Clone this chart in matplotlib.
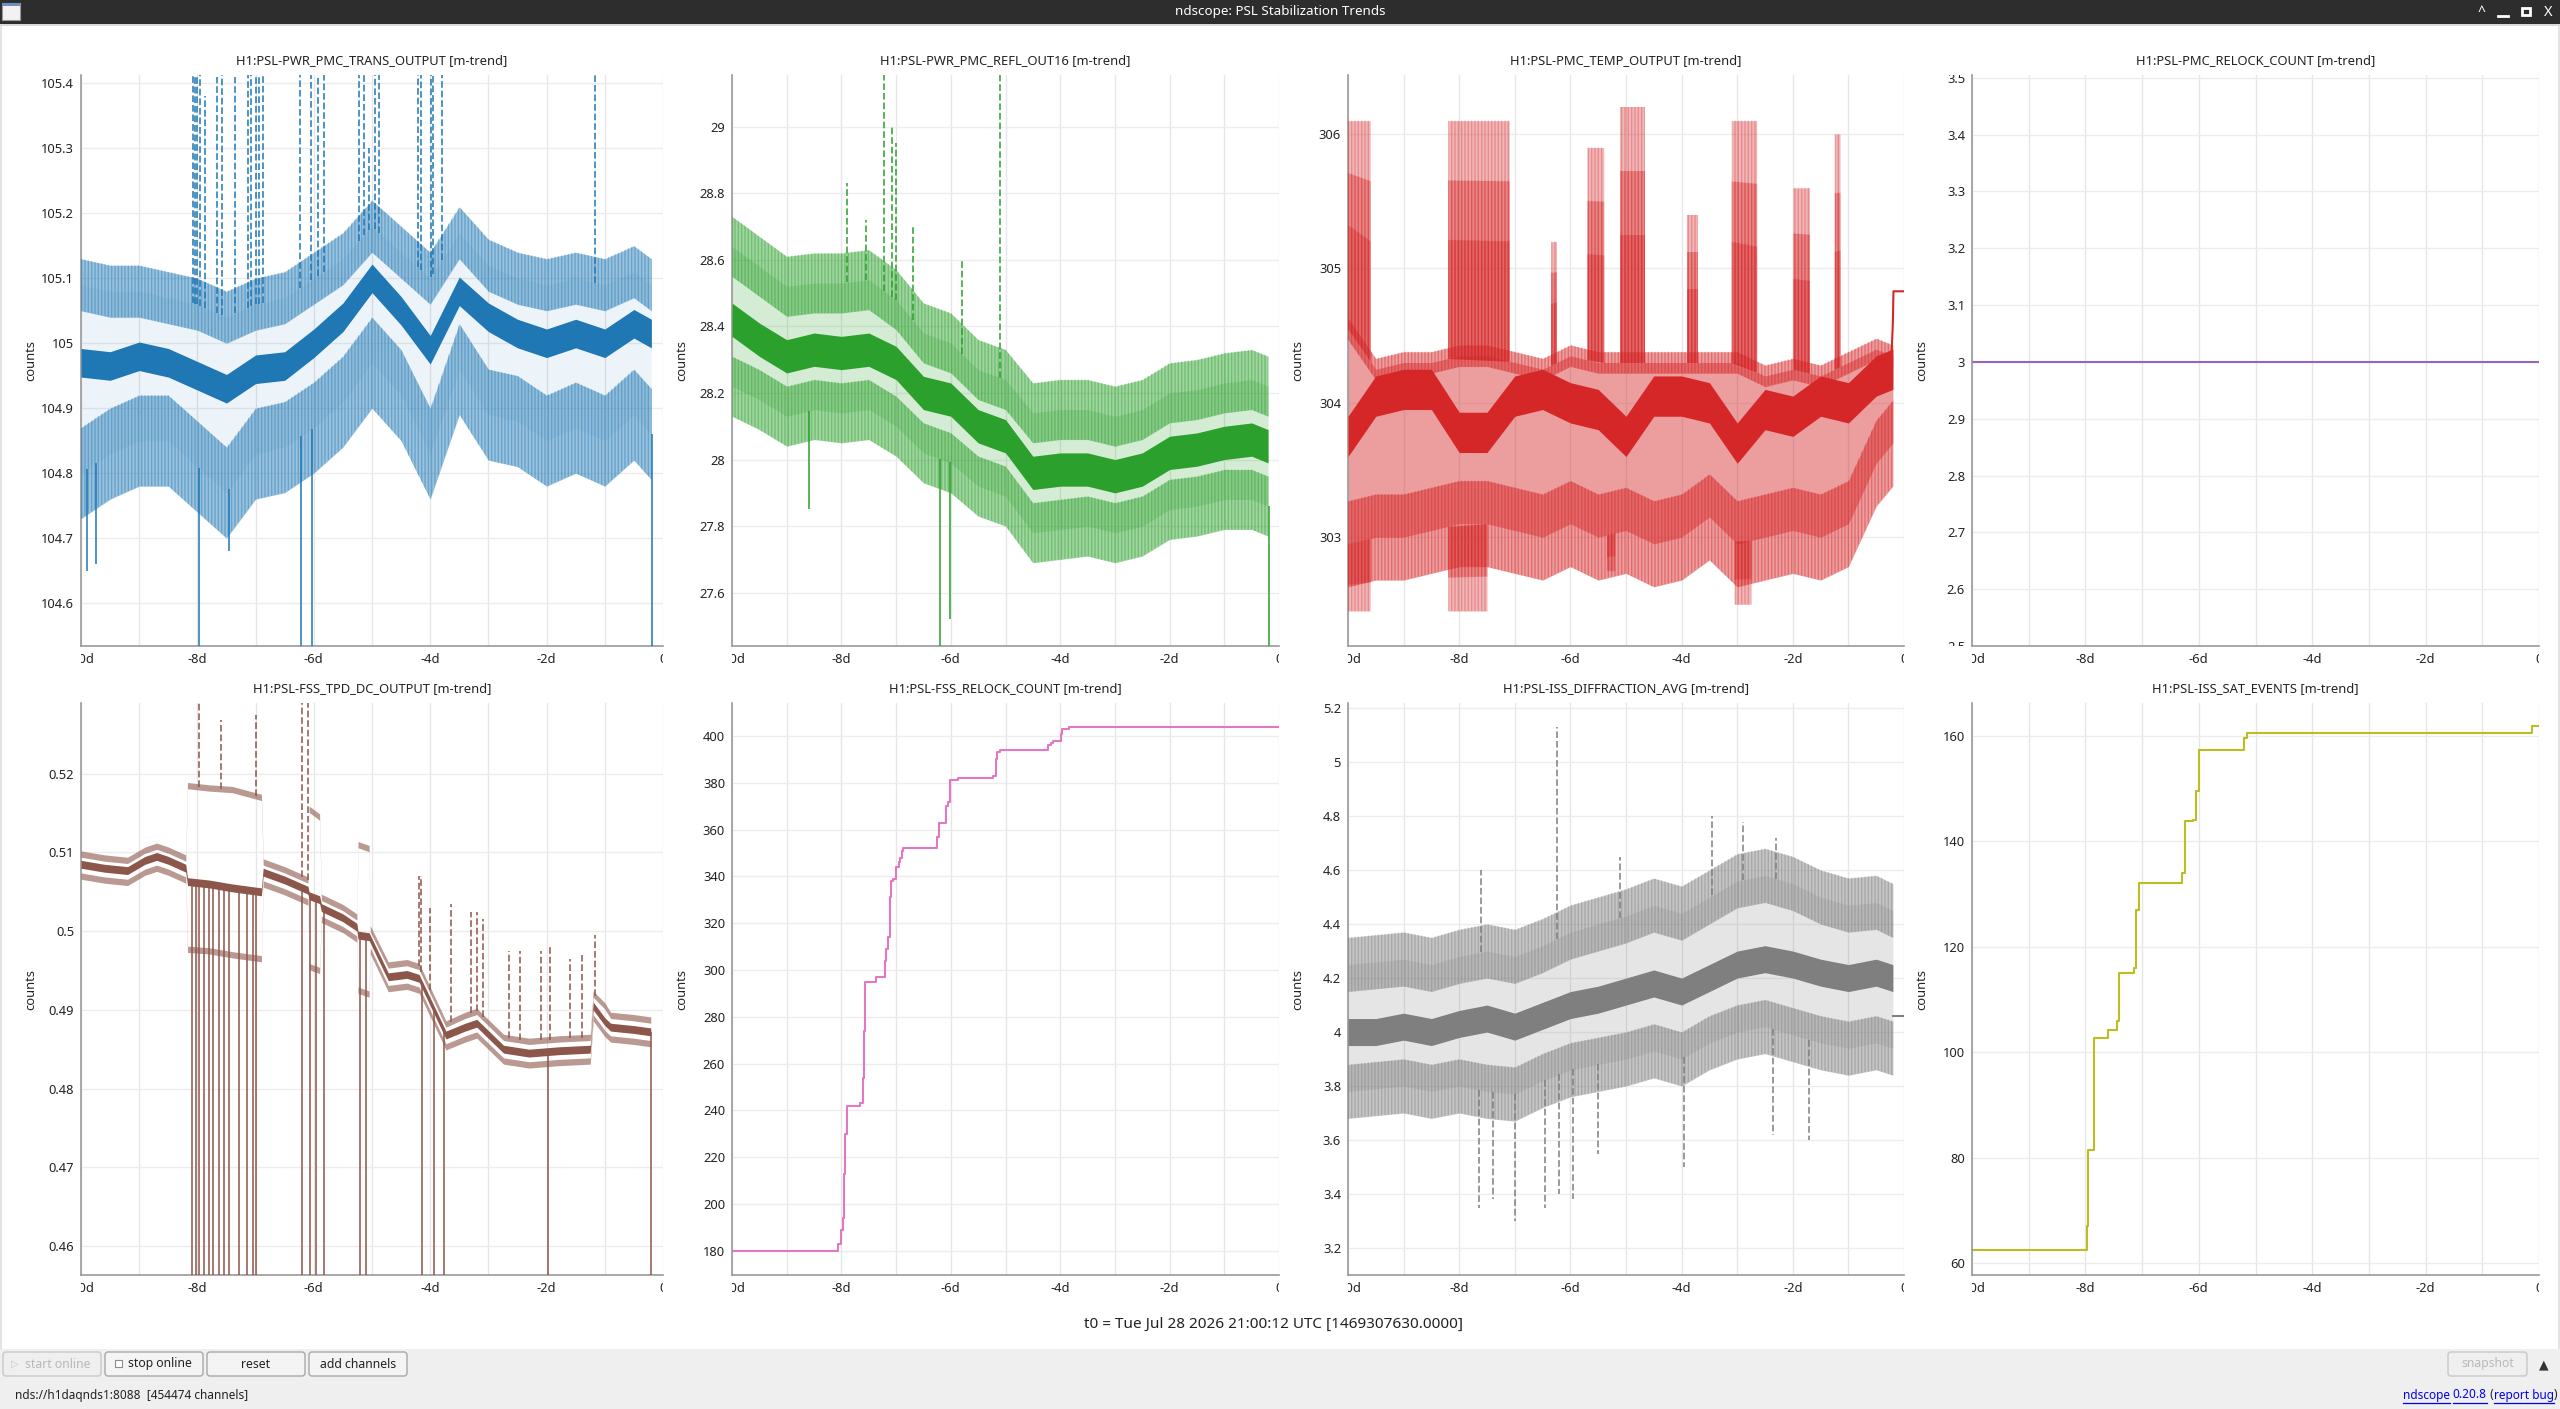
import numpy as np
import matplotlib.pyplot as plt
from matplotlib.patches import Rectangle, FancyBboxPatch
from matplotlib.transforms import Bbox, TransformedBbox
from matplotlib.ticker import FixedLocator, FuncFormatter

plt.rcParams['font.family'] = ['Noto Sans', 'DejaVu Sans']
plt.rcParams['hatch.linewidth'] = 1.0

W, H = 2560, 1409

# time axis, days before t0
x_ticks = [-10, -8, -6, -4, -2, 0]
x_tick_labels = ['-10d', '-8d', '-6d', '-4d', '-2d', '0']
x_minor = [-9, -7, -5, -3, -1]
days = [-10, -9.5, -9, -8.5, -8, -7.5, -7, -6.5, -6, -5.5, -5, -4.5, -4, -3.5, -3,
        -2.5, -2, -1.5, -1, -0.5, -0.2]

titles = ['H1:PSL-PWR_PMC_TRANS_OUTPUT [m-trend]', 'H1:PSL-PWR_PMC_REFL_OUT16 [m-trend]',
          'H1:PSL-PMC_TEMP_OUTPUT [m-trend]', 'H1:PSL-PMC_RELOCK_COUNT [m-trend]',
          'H1:PSL-FSS_TPD_DC_OUTPUT [m-trend]', 'H1:PSL-FSS_RELOCK_COUNT [m-trend]',
          'H1:PSL-ISS_DIFFRACTION_AVG [m-trend]', 'H1:PSL-ISS_SAT_EVENTS [m-trend]']
colors = ['#1f77b4', '#2ca02c', '#d62728', '#9467bd', '#8c564b', '#e377c2', '#7f7f7f', '#bcbd22']
ylims = [(104.534, 105.413), (27.44, 29.155), (302.19, 306.44), (2.5, 3.505),
         (0.4563, 0.529), (169.7, 414.1), (3.1, 5.219), (57.8, 166.2)]
yticks = [[104.6, 104.7, 104.8, 104.9, 105.0, 105.1, 105.2, 105.3, 105.4],
          [27.6, 27.8, 28.0, 28.2, 28.4, 28.6, 28.8, 29.0],
          [303, 304, 305, 306],
          [2.5, 2.6, 2.7, 2.8, 2.9, 3.0, 3.1, 3.2, 3.3, 3.4, 3.5],
          [0.46, 0.47, 0.48, 0.49, 0.50, 0.51, 0.52],
          [180, 200, 220, 240, 260, 280, 300, 320, 340, 360, 380, 400],
          [3.2, 3.4, 3.6, 3.8, 4.0, 4.2, 4.4, 4.6, 4.8, 5.0, 5.2],
          [60, 80, 100, 120, 140, 160]]

# PMC trans (blue)
p1_max = [105.09, 105.08, 105.08, 105.07, 105.06, 105.04, 105.06, 105.07, 105.1, 105.13, 105.18,
          105.14, 105.1, 105.17, 105.12, 105.1, 105.09, 105.1, 105.09, 105.11, 105.09]
p1_mean = [104.97, 104.965, 104.98, 104.97, 104.95, 104.93, 104.96, 104.965, 105.0, 105.04, 105.1,
           105.05, 104.99, 105.08, 105.04, 105.015, 105.0, 105.015, 105.0, 105.03, 105.015]
p1_min = [104.8, 104.83, 104.85, 104.85, 104.81, 104.77, 104.83, 104.84, 104.87, 104.91, 104.97,
          104.92, 104.83, 104.96, 104.89, 104.88, 104.85, 104.87, 104.85, 104.89, 104.86]
p1_up_days = [-8.07, -8.04, -8.0, -7.95, -7.87, -7.67, -7.58, -7.35, -7.13, -7.08, -7.0, -6.95, -6.87,
              -6.24, -6.05, -5.93, -5.83, -5.22, -5.14, -5.05, -4.95, -4.88, -4.21, -4.16, -3.99,
              -3.95, -3.8, -1.17]
p1_up_tops = [105.45, 105.45, 105.45, 105.45, 105.38, 105.41, 105.45, 105.41, 105.45, 105.45, 105.45,
              105.45, 105.45, 105.45, 105.45, 105.45, 105.45, 105.45, 105.45, 105.3, 105.45, 105.45,
              105.45, 105.45, 105.45, 105.45, 105.45, 105.45]
p1_dn_days = [-9.9, -9.75, -7.97, -7.45, -6.22, -6.03, -0.19]
p1_dn_ends = [104.65, 104.66, 104.5, 104.68, 104.5, 104.5, 104.5]

# PMC refl (green)
p2_max = [28.64, 28.58, 28.52, 28.53, 28.53, 28.54, 28.48, 28.38, 28.35, 28.27, 28.24, 28.14, 28.15,
          28.15, 28.13, 28.15, 28.2, 28.21, 28.23, 28.24, 28.22]
p2_mean = [28.42, 28.36, 28.31, 28.33, 28.32, 28.33, 28.29, 28.2, 28.18, 28.1, 28.07, 27.96, 27.97,
           27.97, 27.95, 27.97, 28.02, 28.03, 28.05, 28.06, 28.04]
p2_min = [28.22, 28.18, 28.13, 28.15, 28.14, 28.15, 28.1, 28.02, 27.99, 27.92, 27.89, 27.78, 27.79,
          27.8, 27.78, 27.8, 27.85, 27.86, 27.88, 27.88, 27.86]
p2_up_days = [-7.9, -7.55, -7.23, -7.08, -7.0, -6.7, -5.8, -5.1]
p2_up_tops = [28.83, 28.72, 29.2, 29.0, 28.95, 28.7, 28.6, 29.2]
p2_dn_days = [-8.6, -6.2, -6.02, -0.18]
p2_dn_ends = [27.85, 27.4, 27.52, 27.4]

# PMC temp (red)
p3_max = [304.55, 304.25, 304.3, 304.3, 304.35, 304.35, 304.3, 304.25, 304.35, 304.3, 304.3, 304.3,
          304.3, 304.3, 304.3, 304.2, 304.25, 304.2, 304.3, 304.4, 304.35]
p3_mean = [303.75, 304.05, 304.1, 304.1, 303.78, 303.78, 304.05, 304.1, 304.0, 303.95, 303.75, 304.05,
           304.05, 304.0, 303.7, 303.95, 303.9, 304.05, 304.0, 304.2, 304.25]
p3_min = [302.95, 303.0, 303.0, 303.05, 303.1, 303.1, 303.05, 303.0, 303.1, 303.0, 303.05, 302.95,
          303.0, 303.15, 302.95, 303.0, 303.05, 303.0, 303.1, 303.55, 303.7]
p3_burst_start = [-10, -8.2, -6.35, -5.7, -5.1, -3.9, -3.1, -2.0, -1.25]
p3_burst_end = [-9.6, -7.1, -6.25, -5.4, -4.65, -3.7, -2.65, -1.7, -1.15]
p3_burst_top = [306.1, 306.1, 305.2, 305.9, 306.2, 305.4, 306.1, 305.6, 306.0]
p3_dip_start = [-10, -8.2, -5.35, -3.05]
p3_dip_end = [-9.6, -7.5, -5.2, -2.75]
p3_dip_bottom = [302.45, 302.45, 302.75, 302.5]
p3_tail_days = [-0.23, -0.2, -0.19, 0]
p3_tail = [304.3, 304.6, 304.83, 304.83]

# PMC relock count (purple)
p4_days = [-10, 0]
p4_vals = [3, 3]

# FSS TPD (brown)
p5_days = [-10, -9.6, -9.2, -8.9, -8.7, -8.5, -8.2, -8.17, -7.8, -7.4, -6.9, -6.87, -6.5, -6.1,
           -6.08, -5.9, -5.87, -5.5, -5.26, -5.24, -5.05, -5.03, -4.72, -4.4, -4.19, -3.73, -3.4,
           -3.2, -2.74, -2.3, -1.8, -1.25, -1.2, -1.0, -0.9, -0.5, -0.21]
p5_max = [0.5098, 0.5093, 0.509, 0.5103, 0.5108, 0.5103, 0.5093, 0.5185, 0.5182, 0.518, 0.517,
          0.5088, 0.5078, 0.5065, 0.5155, 0.5145, 0.5043, 0.503, 0.5018, 0.511, 0.5105, 0.5003,
          0.4957, 0.496, 0.4955, 0.4882, 0.4893, 0.4898, 0.4865, 0.486, 0.4863, 0.4865, 0.492,
          0.4905, 0.4893, 0.489, 0.4887]
p5_mean = [0.5085, 0.508, 0.5077, 0.509, 0.5095, 0.509, 0.508, 0.5063, 0.506, 0.5055, 0.505, 0.5075,
           0.5065, 0.5052, 0.5045, 0.504, 0.503, 0.5017, 0.5005, 0.4995, 0.4993, 0.499, 0.4942,
           0.4945, 0.494, 0.4868, 0.4878, 0.4883, 0.485, 0.4845, 0.4848, 0.485, 0.4905, 0.4885,
           0.4878, 0.4875, 0.4872]
p5_min = [0.507, 0.5065, 0.5062, 0.5075, 0.508, 0.5075, 0.5065, 0.4977, 0.4975, 0.497, 0.4965,
          0.506, 0.505, 0.5037, 0.4955, 0.495, 0.5015, 0.5002, 0.499, 0.4925, 0.492, 0.4975, 0.4927,
          0.493, 0.4925, 0.4853, 0.4863, 0.4868, 0.4835, 0.483, 0.4833, 0.4835, 0.489, 0.487,
          0.4863, 0.486, 0.4857]
p5_up_days = [-7.97, -7.6, -7.0, -6.2, -6.1, -4.2, -4.15, -4.0, -3.65, -3.3, -3.2, -3.1, -2.65,
              -2.45, -2.1, -1.95, -1.6, -1.4, -1.17]
p5_up_tops = [0.53, 0.5269, 0.5275, 0.53, 0.53, 0.507, 0.507, 0.503, 0.5035, 0.5025, 0.5025, 0.5015,
              0.4975, 0.4975, 0.4975, 0.498, 0.4965, 0.497, 0.4995]
p5_dn_days = [-8.09, -8.03, -7.97, -7.89, -7.8, -7.74, -7.63, -7.55, -7.46, -7.29, -7.14, -7.05,
              -7.0, -6.2, -6.06, -5.97, -5.83, -5.2, -5.1, -4.14, -3.94, -3.77, -1.97, -0.2]

# FSS relock count (pink)
p6_days = [-10, -8.07, -8.0, -7.97, -7.95, -7.93, -7.9, -7.66, -7.6, -7.58, -7.57, -7.37, -7.2,
           -7.18, -7.15, -7.12, -7.1, -7.05, -7.0, -6.95, -6.92, -6.9, -6.87, -6.25, -6.22, -6.08,
           -6.05, -6.02, -5.86, -5.22, -5.17, -5.15, -5.1, -4.22, -4.17, -4.13, -3.98, -3.96, -3.83, 0]
p6_vals = [180, 183, 189, 194, 213, 230, 242, 243, 254, 274, 295, 297, 304, 309, 314, 331, 338, 339,
           344, 346, 348, 351, 352, 357, 363, 370, 372, 381, 382, 383, 390, 393, 394, 396, 397, 398,
           401, 403, 404, 404]

# ISS diffraction (grey)
p7_max = [4.25, 4.26, 4.27, 4.25, 4.28, 4.3, 4.28, 4.32, 4.37, 4.4, 4.43, 4.47, 4.44, 4.5, 4.56,
          4.58, 4.55, 4.5, 4.47, 4.48, 4.45]
p7_mean = [4.0, 4.0, 4.02, 4.0, 4.03, 4.05, 4.02, 4.06, 4.1, 4.12, 4.15, 4.18, 4.15, 4.2, 4.25,
           4.27, 4.25, 4.22, 4.2, 4.22, 4.2]
p7_min = [3.78, 3.79, 3.8, 3.78, 3.8, 3.78, 3.77, 3.82, 3.86, 3.88, 3.9, 3.93, 3.9, 3.96, 4.0, 4.02,
          3.99, 3.96, 3.94, 3.96, 3.94]
p7_up_days = [-7.6, -6.25, -5.1, -3.45, -2.9, -2.3]
p7_up_tops = [4.6, 5.13, 4.65, 4.8, 4.78, 4.72]
p7_dn_days = [-7.65, -7.4, -7.0, -6.45, -6.2, -5.95, -5.5, -3.95, -2.35, -1.7]
p7_dn_ends = [3.35, 3.38, 3.3, 3.35, 3.4, 3.38, 3.55, 3.5, 3.62, 3.6]
p7_tail_days = [-0.2, 0]
p7_tail = [4.06, 4.06]

# ISS saturation events (olive)
p8_days = [-10, -7.97, -7.95, -7.85, -7.6, -7.45, -7.4, -7.15, -7.1, -7.05, -6.3, -6.25, -6.1,
           -6.05, -6.0, -5.2, -5.15, -0.12, 0]
p8_vals = [62.5, 67, 81.4, 102.7, 104.3, 106, 115.1, 116, 127, 132.1, 134, 143.9, 144, 149.5,
           157.2, 159.5, 160.6, 161.9, 161.9]

cols = [(81, 663), (732, 1279), (1348, 1904), (1972, 2539)]
rows = [(75, 646), (703, 1275)]

fig = plt.figure(figsize=(25.6, 14.09), dpi=100)
fig.patch.set_facecolor('white')


def shade(ax, x, lo, hi, color, alpha, hatch_alpha, z):
    # light fill plus fine vertical hatching to suggest the dense min/max noise
    ax.fill_between(x, lo, hi, color=color, alpha=alpha, lw=0, zorder=z)
    if hatch_alpha > 0:
        ax.fill_between(x, lo, hi, facecolor='none', edgecolor=color, hatch='|||||',
                        alpha=hatch_alpha, lw=0, zorder=z)


def trend(ax, mx, mean, mn, w, color, haze):
    d = np.array(days)
    mx, mean, mn = np.array(mx), np.array(mean), np.array(mn)
    shade(ax, d, mn, mx, color, haze, 0, 2)
    shade(ax, d, mx - w[0], mx + w[0], color, 0.45, 0.4, 3)
    shade(ax, d, mn - w[2], mn + w[2], color, 0.45, 0.4, 3)
    ax.fill_between(d, mean - w[1], mean + w[1], color=color, lw=0, zorder=4)


def spikes(ax, sd, ends, base, color, ls='-'):
    b = np.interp(sd, days if len(base) == len(days) else p5_days, base)
    ax.vlines(sd, b, ends, colors=color, lw=1.3, alpha=0.85, linestyles=ls, zorder=4)


def clip_labels(ax):
    xbox = TransformedBbox(Bbox([[0, -0.2], [1, 1]]), ax.transAxes)
    ybox = TransformedBbox(Bbox([[-0.3, 0], [1, 1]]), ax.transAxes)
    for t in ax.xaxis.get_major_ticks():
        t.label1.set_clip_box(xbox)
        t.label1.set_clip_on(True)
    for t in ax.yaxis.get_major_ticks():
        t.label1.set_clip_box(ybox)
        t.label1.set_clip_on(True)


axes = []
for i in range(8):
    x0, x1 = cols[i % 4]
    y0, y1 = rows[i // 4]
    ax = fig.add_axes([x0 / W, 1 - y1 / H, (x1 - x0) / W, (y1 - y0) / H])
    ax.set_xlim(-10, 0)
    ax.set_ylim(*ylims[i])
    ax.xaxis.set_major_locator(FixedLocator(x_ticks))
    ax.xaxis.set_minor_locator(FixedLocator(x_minor))
    ax.set_xticklabels(x_tick_labels)
    ax.yaxis.set_major_locator(FixedLocator(yticks[i]))
    ax.yaxis.set_major_formatter(FuncFormatter(lambda v, p: f'{round(v, 6):g}'))
    ax.grid(True, which='both', axis='x', color='#e6e6e6', lw=1, zorder=0)
    ax.grid(True, which='major', axis='y', color='#ececec', lw=1, zorder=0)
    ax.tick_params(which='both', length=0, labelsize=9.3, labelcolor='#222222', pad=5)
    for s in ['top', 'right']:
        ax.spines[s].set_visible(False)
    for s in ['left', 'bottom']:
        ax.spines[s].set_color('#9a9a9a')
        ax.spines[s].set_linewidth(1.2)
    ax.set_axisbelow(True)
    clip_labels(ax)
    fig.text((x0 + x1) / 2 / W, 1 - (y0 - 14) / H, titles[i], ha='center', va='center',
             fontsize=9.3, color='#222222')
    fig.text((x0 - 50) / W, 1 - (y0 + y1) / 2 / H, 'counts', rotation=90, ha='center',
             va='center', fontsize=9.3, color='#222222')
    axes.append(ax)

a = axes
trend(a[0], p1_max, p1_mean, p1_min, (0.04, 0.022, 0.07), colors[0], 0.08)
spikes(a[0], p1_up_days, p1_up_tops, p1_max, colors[0], '--')
spikes(a[0], p1_dn_days, p1_dn_ends, p1_min, colors[0])

trend(a[1], p2_max, p2_mean, p2_min, (0.09, 0.05, 0.09), colors[1], 0.2)
spikes(a[1], p2_up_days, p2_up_tops, p2_max, colors[1], '--')
spikes(a[1], p2_dn_days, p2_dn_ends, p2_min, colors[1])

trend(a[2], p3_max, p3_mean, p3_min, (0.08, 0.15, 0.32), colors[2], 0.45)
for s, e, t in zip(p3_burst_start, p3_burst_end, p3_burst_top):
    base = np.interp([s, e], days, p3_max)
    # density fades towards the top of each burst
    for frac in (1.0, 0.75, 0.5):
        shade(a[2], [s, e], base, base + frac * (t - base), colors[2], 0.33, 0.3, 3)
for s, e, b in zip(p3_dip_start, p3_dip_end, p3_dip_bottom):
    base = np.interp([s, e], days, p3_min)
    for frac in (1.0, 0.6):
        shade(a[2], [s, e], base - frac * (base - b), base, colors[2], 0.33, 0.3, 3)
a[2].plot(p3_tail_days, p3_tail, color=colors[2], lw=1.5, zorder=4)

a[3].plot(p4_days, p4_vals, color=colors[3], lw=1.5)

d5 = np.array(p5_days)
for vals, w, al in [(p5_max, 0.0004, 0.6), (p5_min, 0.0004, 0.6), (p5_mean, 0.0005, 1.0)]:
    v = np.array(vals)
    a[4].fill_between(d5, v - w, v + w, color=colors[4], alpha=al, lw=0, zorder=3)
spikes(a[4], p5_up_days, p5_up_tops, p5_max, colors[4], '--')
spikes(a[4], p5_dn_days, [0.45] * len(p5_dn_days), p5_mean, colors[4])

a[5].step(p6_days, p6_vals, where='post', color=colors[5], lw=1.5)

trend(a[6], p7_max, p7_mean, p7_min, (0.1, 0.05, 0.1), colors[6], 0.2)
spikes(a[6], p7_up_days, p7_up_tops, p7_max, colors[6], '--')
spikes(a[6], p7_dn_days, p7_dn_ends, p7_min, colors[6], '--')
a[6].plot(p7_tail_days, p7_tail, color=colors[6], lw=1.5, zorder=4)

a[7].step(p8_days, p8_vals, where='post', color=colors[7], lw=1.5)

# window chrome drawn in pixel coordinates
ch = fig.add_axes([0, 0, 1, 1], zorder=-1)
ch.set_xlim(0, W)
ch.set_ylim(H, 0)
ch.axis('off')
ch.add_patch(Rectangle((0, 0), W, 24, fc='#2d2d2d', ec='none'))
ch.add_patch(Rectangle((0, 24), W, 2, fc='#dadada', ec='none'))
ch.add_patch(Rectangle((0, 26), 2, 1323, fc='#e4e4e4', ec='none'))
ch.add_patch(Rectangle((W - 2, 26), 2, 1323, fc='#e4e4e4', ec='none'))
ch.text(W / 2, 12, 'ndscope: PSL Stabilization Trends', ha='center', va='center', color='white',
        fontsize=9.7, fontweight='bold')
ch.add_patch(Rectangle((2, 3), 18, 17, fc='#f2f2f2', ec='#9a9a9a', lw=0.8))
ch.add_patch(Rectangle((2, 3), 18, 3, fc='#6d8fc4', ec='none'))
ch.text(2481, 13, '^', ha='center', va='center', color='white', fontsize=10, fontweight='bold')
ch.plot([2498, 2508], [16, 16], color='white', lw=2)
ch.add_patch(Rectangle((2522, 8), 8, 7, fc='none', ec='white', lw=2))
ch.text(2548, 12, 'X', ha='center', va='center', color='white', fontsize=10.5, fontweight='bold')

ch.text(1274, 1324, 't0 = Tue Jul 28 2026 21:00:12 UTC [1469307630.0000]', ha='center',
        va='center', fontsize=11, color='#222222')

ch.add_patch(Rectangle((0, 1349), W, H - 1349, fc='#efefef', ec='none'))
buttons = [(3, 101, 'start online', False), (105, 203, 'stop online', True),
           (207, 305, 'reset', True), (309, 407, 'add channels', True),
           (2448, 2527, 'snapshot', False)]
for bx0, bx1, label, on in buttons:
    ch.add_patch(FancyBboxPatch((bx0, 1352), bx1 - bx0, 24,
                                boxstyle='round,pad=0,rounding_size=3',
                                fc='#f4f4f4' if on else '#efefef',
                                ec='#a8a8a8' if on else '#c8c8c8', lw=1))
    tx = (bx0 + bx1) / 2
    if label == 'start online':
        ch.text(tx - 37, 1364, '\u25b7', ha='center', va='center', fontsize=7, color='#c4c4c4')
        tx += 6
    if label == 'stop online':
        ch.add_patch(Rectangle((tx - 39, 1360), 7, 7, fc='white', ec='#8a8a8a', lw=0.8))
        tx += 6
    ch.text(tx, 1364, label, ha='center', va='center', fontsize=8.8,
            color='#222222' if on else '#b9b9b9')
ch.text(2544, 1365, '\u25b2', ha='center', va='center', fontsize=9, color='#333333')
ch.text(15, 1395, 'nds://h1daqnds1:8088  [454474 channels]', ha='left', va='center',
        fontsize=8.5, color='#222222')

# footer links, laid out right to left
renderer = fig.canvas.get_renderer()
xr = 2557
for piece, link in [(')', False), ('report bug', True), (' (', False), ('0.20.8', True),
                    (' ', False), ('ndscope', True)]:
    t = ch.text(xr, 1395, piece, ha='right', va='center', fontsize=8.5,
                color='#0000ee' if link else '#222222')
    bb = t.get_window_extent(renderer)
    if link:
        ch.plot([xr - bb.width, xr], [1403, 1403], color='#0000ee', lw=0.9)
    xr -= bb.width

fig.savefig('out.png', dpi=100, facecolor=fig.get_facecolor())
